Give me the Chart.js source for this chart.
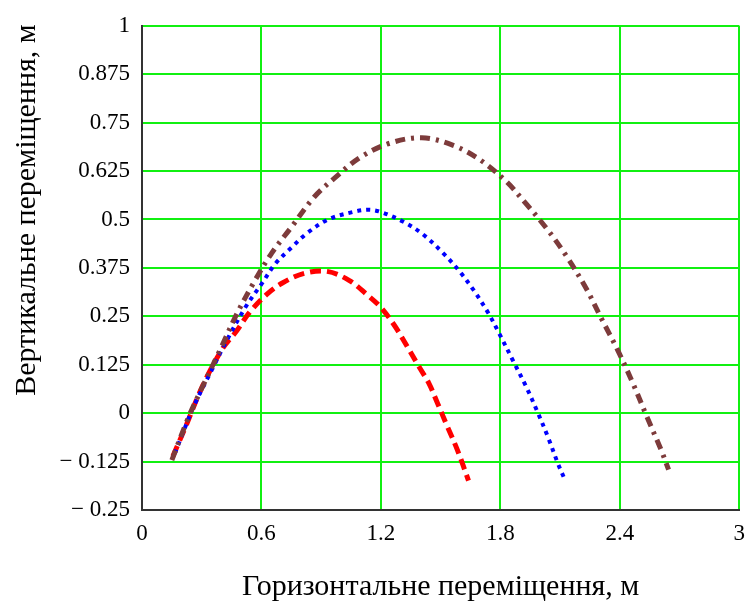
<!DOCTYPE html>
<html>
<head>
<meta charset="utf-8">
<script src="https://cdn.jsdelivr.net/npm/chart.js@4/dist/chart.umd.min.js"></script>
<style>
  html, body { margin: 0; padding: 0; background: #fff; }
  #wrap { width: 755px; height: 605px; }
</style>
</head>
<body>
<div id="wrap"><canvas id="myChart" width="755" height="605"></canvas></div>

<script>
// trajectory points, metres
const redX = [0.155, 0.215, 0.305, 0.405, 0.475, 0.54, 0.625, 0.705, 0.815, 0.93, 1.04, 1.13, 1.20, 1.27, 1.33, 1.39, 1.44, 1.485, 1.53, 1.585, 1.64];
const redY = [-0.111, -0.040, 0.071, 0.167, 0.212, 0.260, 0.306, 0.336, 0.361, 0.366, 0.343, 0.306, 0.273, 0.225, 0.174, 0.121, 0.078, 0.025, -0.030, -0.096, -0.174];

const blueX = [0.165, 0.21, 0.26, 0.35, 0.425, 0.525, 0.60, 0.67, 0.75, 0.83, 0.935, 1.065, 1.135, 1.195, 1.31, 1.41, 1.515, 1.595, 1.665, 1.74, 1.795, 1.865, 1.93, 1.985, 2.04, 2.09, 2.12];
const blueY = [-0.104, -0.045, 0.018, 0.111, 0.187, 0.278, 0.333, 0.386, 0.427, 0.465, 0.500, 0.520, 0.525, 0.520, 0.495, 0.462, 0.412, 0.366, 0.318, 0.258, 0.205, 0.134, 0.068, 0.005, -0.063, -0.131, -0.167];

const brownX = [0.15, 0.23, 0.29, 0.40, 0.475, 0.56, 0.65, 0.75, 0.865, 0.97, 1.095, 1.245, 1.405, 1.56, 1.695, 1.83, 1.93, 2.035, 2.13, 2.23, 2.31, 2.39, 2.465, 2.535, 2.61, 2.645];
const brownY = [-0.121, -0.015, 0.053, 0.172, 0.255, 0.336, 0.412, 0.480, 0.558, 0.608, 0.660, 0.697, 0.711, 0.692, 0.655, 0.598, 0.540, 0.475, 0.407, 0.323, 0.242, 0.162, 0.078, -0.008, -0.098, -0.146];

const xTicks = [0, 0.6, 1.2, 1.8, 2.4, 3];
const yTicks = [-0.25, -0.125, 0, 0.125, 0.25, 0.375, 0.5, 0.625, 0.75, 0.875, 1];

const xTitle = 'Горизонтальне переміщення, м';
const yTitle = 'Вертикальне переміщення, м';

const FONT = '"Liberation Serif", "Times New Roman", serif';

function pts(xs, ys) {
  return xs.map((x, i) => ({ x: x, y: ys[i] }));
}

function fmt(v) {
  const s = String(+v.toFixed(3));
  return v < 0 ? '\u2212 ' + s.slice(1) : s;
}

// vertical axis title, drawn beside the tick labels
const yTitlePlugin = {
  id: 'yTitle',
  afterDraw(chart) {
    const ctx = chart.ctx;
    ctx.save();
    ctx.translate(27, 210);
    ctx.rotate(-Math.PI / 2);
    ctx.font = '30px ' + FONT;
    ctx.fillStyle = '#000';
    ctx.textAlign = 'center';
    ctx.textBaseline = 'middle';
    ctx.fillText(yTitle, 0, 0);
    ctx.restore();
  }
};

const data = {
  datasets: [
    {
      label: 'brown',
      data: pts(brownX, brownY),
      borderColor: '#7d3b3b',
      borderWidth: 5,
      borderDash: [10, 6, 3, 6],
    },
    {
      label: 'blue',
      data: pts(blueX, blueY),
      borderColor: '#0000ff',
      borderWidth: 4,
      borderDash: [4, 5],
    },
    {
      label: 'red',
      data: pts(redX, redY),
      borderColor: '#ff0000',
      borderWidth: 5,
      borderDash: [11, 6],
    }
  ]
};

const config = {
  type: 'scatter',
  data: data,
  options: {
    responsive: false,
    animation: false,
    showLine: true,
    elements: {
      point: { radius: 0 },
      line: { tension: 0.35, fill: false, borderCapStyle: 'butt' }
    },
    layout: { padding: { top: 15, right: 13, left: 0, bottom: 0 } },
    plugins: {
      legend: { display: false },
      tooltip: { enabled: false }
    },
    scales: {
      x: {
        type: 'linear',
        min: 0,
        max: 3,
        afterBuildTicks: (s) => { s.ticks = xTicks.map(v => ({ value: v })); },
        afterFit: (s) => { s.height = 95; },
        grid: { color: '#11f011', lineWidth: 2, drawTicks: false },
        border: { color: '#333', width: 2 },
        ticks: {
          padding: 10,
          color: '#000',
          font: { family: FONT, size: 23 },
          callback: (v) => fmt(v)
        },
        title: {
          display: true,
          text: xTitle,
          color: '#000',
          font: { family: FONT, size: 30 },
          padding: { top: 18, bottom: 0 }
        }
      },
      y: {
        type: 'linear',
        min: -0.25,
        max: 1,
        afterBuildTicks: (s) => { s.ticks = yTicks.map(v => ({ value: v })); },
        afterFit: (s) => { s.width = 142; },
        grid: { color: '#11f011', lineWidth: 2, drawTicks: false },
        border: { color: '#333', width: 2 },
        ticks: {
          padding: 12,
          color: '#000',
          font: { family: FONT, size: 23 },
          callback: (v) => fmt(v)
        }
      }
    }
  },
  plugins: [yTitlePlugin]
};

var myChart = new Chart(
  document.getElementById('myChart'),
  config
);
</script>
</body>
</html>
